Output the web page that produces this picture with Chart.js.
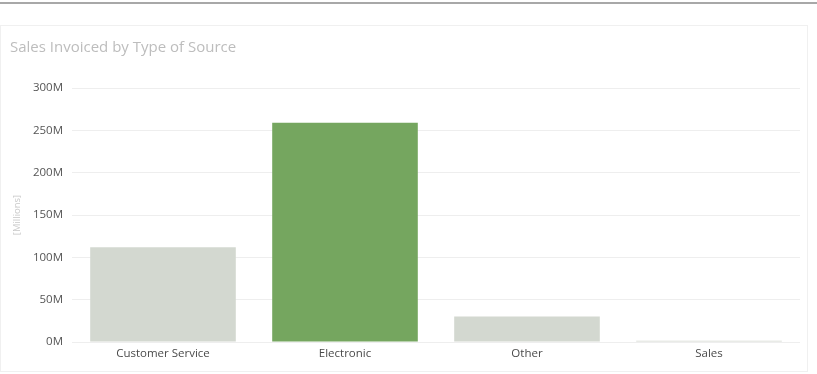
<!DOCTYPE html>
<html>
<head>
<meta charset="utf-8">
<script src="https://cdn.jsdelivr.net/npm/chart.js@4/dist/chart.umd.min.js"></script>
<style>
    html, body { margin: 0; padding: 0; background: #fff; }
    body { width: 817px; height: 374px; position: relative; overflow: hidden; }
    .topline { position: absolute; left: 0; top: 2px; width: 817px; height: 2px; background: #a8a8a8; }
    .card { position: absolute; left: 0; top: 25px; width: 808px; height: 347px; border: 1px solid #f0f0f0; box-sizing: border-box; }
    #chart { position: absolute; left: 0; top: 0; }
</style>
</head>
<body>
<div class="topline"></div>
<div class="card"></div>
<canvas id="chart" width="817" height="374"></canvas>
<script>
// Sales invoiced per source type, in millions
const categories = ['Customer Service', 'Electronic', 'Other', 'Sales'];
const salesMillions = [112, 259, 30, 1.5];
const barColors = ['#d3d8d0', '#75a65f', '#d3d8d0', '#d3d8d0'];
const yTicks = [0, 50, 100, 150, 200, 250, 300];

const uiFont = "'Open Sans', 'DejaVu Sans', sans-serif";

const config = {
    type: 'bar',
    data: {
        labels: categories,
        datasets: [{
            label: 'Sales',
            data: salesMillions,
            backgroundColor: barColors,
            borderWidth: 0,
            barPercentage: 0.8,
            categoryPercentage: 1.0
        }]
    },
    options: {
        responsive: false,
        animation: false,
        layout: { padding: { left: 10, right: 17, top: 0, bottom: 0 } },
        plugins: {
            legend: { display: false },
            tooltip: { enabled: false },
            title: {
                display: true,
                text: 'Sales Invoiced by Type of Source',
                align: 'start',
                color: '#bdbdbd',
                font: { family: uiFont, size: 15, weight: 'normal' },
                padding: { top: 39, bottom: 31 }
            }
        },
        scales: {
            x: {
                grid: { display: false, drawTicks: false },
                border: { display: false },
                ticks: {
                    color: '#4a4a4a',
                    font: { family: uiFont, size: 11.5 },
                    padding: 5,
                    maxRotation: 0
                },
                afterFit: function(scale) { scale.height = 32; }
            },
            y: {
                min: 0,
                max: 300,
                afterBuildTicks: function(scale) {
                    scale.ticks = yTicks.map(v => ({ value: v }));
                },
                grid: { color: '#eeeeee', drawTicks: false },
                border: { display: false },
                ticks: {
                    color: '#555555',
                    font: { family: uiFont, size: 11.5 },
                    padding: 9,
                    callback: v => v + 'M'
                },
                title: {
                    display: true,
                    text: '[Millions]',
                    color: '#c8c8c8',
                    font: { family: uiFont, size: 9.5 },
                    padding: { top: 2, bottom: 0 }
                },
                afterFit: function(scale) { scale.width = 62; }
            }
        }
    }
};

new Chart(document.getElementById('chart'), config);
</script>
</body>
</html>
